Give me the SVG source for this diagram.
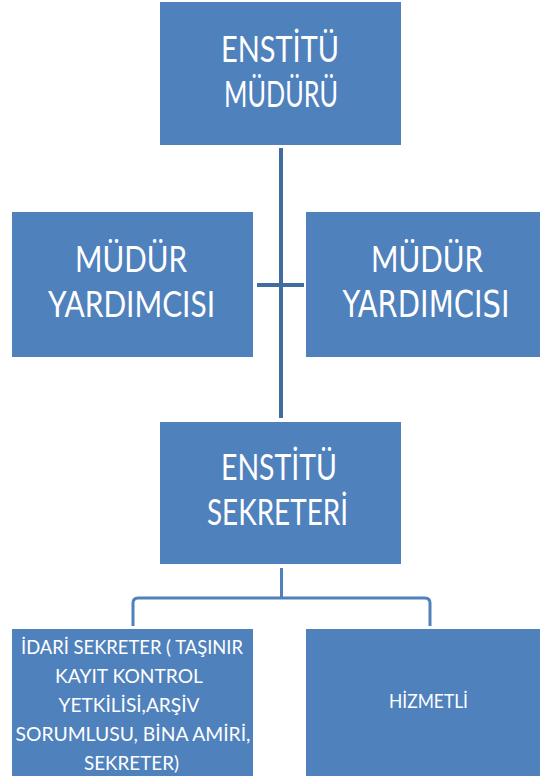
<svg xmlns="http://www.w3.org/2000/svg" width="540" height="776" viewBox="0 0 540 776">
<style>
.box{fill:#4F81BD}
.t{font-family:Lato,"Liberation Sans",sans-serif;fill:#FFFFFF;text-anchor:middle}
.c{font-family:"DejaVu Sans Condensed",Lato,sans-serif}
.big{font-size:37px}
.small{font-size:20px}
.main{stroke:#3F6D9F;stroke-width:4;fill:none}
.sub{stroke:#4F81BD;stroke-width:3;fill:none;stroke-linejoin:round}
</style>
<rect width="540" height="776" fill="#FFFFFF"/>
<g id="connectors">
<line class="main" x1="281" y1="148" x2="281" y2="418"/>
<line class="main" x1="257" y1="285" x2="304" y2="285"/>
<path class="sub" d="M281.5 568 V598 M133 626 V603 Q133 598 138 598 H425 Q430 598 430 603 V626"/>
</g>
<g id="enstitu-muduru">
<rect class="box" x="160" y="2" width="241" height="143"/>
<text class="t big" x="280" y="62" textLength="118" lengthAdjust="spacingAndGlyphs">ENSTİTÜ</text>
<text class="t big" x="281" y="107" textLength="114" lengthAdjust="spacingAndGlyphs">MÜDÜRÜ</text>
</g>
<g id="mudur-yardimcisi-1">
<rect class="box" x="12" y="212" width="241" height="145"/>
<text class="t big" x="131" y="272" textLength="112" lengthAdjust="spacingAndGlyphs">MÜDÜR</text>
<text class="t big" x="131.5" y="317" textLength="167" lengthAdjust="spacingAndGlyphs">YARDIMCISI</text>
</g>
<g id="mudur-yardimcisi-2">
<rect class="box" x="306" y="212" width="234" height="145"/>
<text class="t big" x="427" y="272" textLength="112" lengthAdjust="spacingAndGlyphs">MÜDÜR</text>
<text class="t c big" x="426" y="317" textLength="167" lengthAdjust="spacingAndGlyphs">YARDIMCISI</text>
</g>
<g id="enstitu-sekreteri">
<rect class="box" x="160" y="422" width="241" height="142"/>
<text class="t big" x="279" y="480" textLength="116" lengthAdjust="spacingAndGlyphs">ENSTİTÜ</text>
<text class="t big" x="277.5" y="525" textLength="141" lengthAdjust="spacingAndGlyphs">SEKRETERİ</text>
</g>
<g id="idari-sekreter">
<rect class="box" x="12" y="629" width="241" height="147"/>
<text class="t small" x="132" y="654" textLength="222" lengthAdjust="spacingAndGlyphs">İDARİ SEKRETER ( TAŞINIR</text>
<text class="t small" x="129" y="683" textLength="148" lengthAdjust="spacingAndGlyphs">KAYIT KONTROL</text>
<text class="t small" x="129" y="712" textLength="141" lengthAdjust="spacingAndGlyphs">YETKİLİSİ,ARŞİV</text>
<text class="t small" x="133" y="741" textLength="235" lengthAdjust="spacingAndGlyphs">SORUMLUSU, BİNA AMİRİ,</text>
<text class="t small" x="131.5" y="770" textLength="95" lengthAdjust="spacingAndGlyphs">SEKRETER)</text>
</g>
<g id="hizmetli">
<rect class="box" x="306" y="629" width="234" height="147"/>
<text class="t small" x="428.5" y="708" textLength="79" lengthAdjust="spacingAndGlyphs">HİZMETLİ</text>
</g>
</svg>
